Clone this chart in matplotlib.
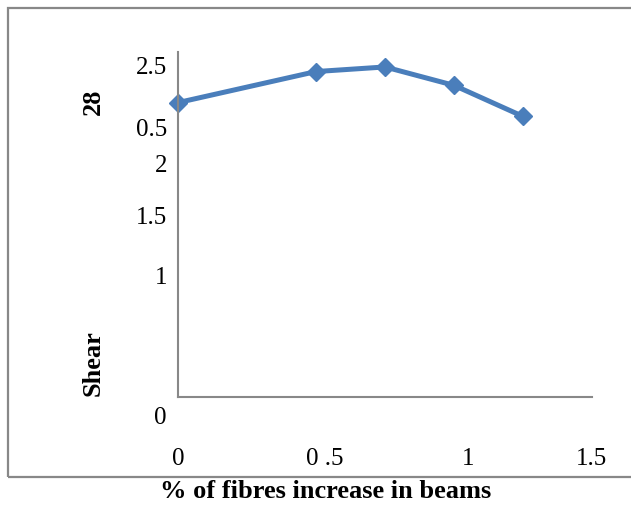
import matplotlib
matplotlib.use('Agg')
import matplotlib.pyplot as plt
from matplotlib.patches import Rectangle

# fibre content (%) and shear values
fibre = [0, 0.5, 0.75, 1.0, 1.25]
shear = [2.56, 2.83, 2.87, 2.71, 2.44]

# tick labels as they appear (the source figure has them garbled)
x_tick_pos = [0, 0.53, 1.05, 1.5]
x_tick_labels = ['0', '0 .5', '1', '1.5']
y_tick_pos = [2.88, 2.34, 2.03, 1.58, 1.06, -0.16]
y_tick_labels = ['2.5', '0.5', '2', '1.5', '1', '0']

plt.rcParams['font.family'] = ['Liberation Serif', 'DejaVu Serif']

W, H = 631, 509
fig = plt.figure(figsize=(W / 100, H / 100), dpi=100)

# outer grey frame
fig.patches.append(Rectangle((8 / W, 1 - 477 / H), 1.0, (477 - 8) / H,
                             transform=fig.transFigure, fill=False,
                             edgecolor='#888888', linewidth=1.6))

left, right = 178 / W, 597.5 / W
top, bottom = 1 - 52 / H, 1 - 425.75 / H
ax = fig.add_axes([left, bottom, right - left, top - bottom])

ax.plot(fibre, shear, color='#4a7ebb', linewidth=3.6, marker='D',
        markersize=9.5, clip_on=False)

ax.set_xlim(0, 1.52)
ax.set_ylim(-0.25, 3.0)

for s in ['top', 'right']:
    ax.spines[s].set_visible(False)
ax.spines['bottom'].set_position(('data', 0))
ax.spines['bottom'].set_bounds(0, 1.5)
ax.spines['left'].set_bounds(0, 3.0)
for s in ['left', 'bottom']:
    ax.spines[s].set_color('#888888')
    ax.spines[s].set_linewidth(1.5)

ax.set_xticks(x_tick_pos)
ax.set_xticklabels(x_tick_labels, fontsize=18)
ax.set_yticks(y_tick_pos)
ax.set_yticklabels(y_tick_labels, fontsize=18)
ax.tick_params(axis='x', length=0, pad=37)
ax.tick_params(axis='y', length=0, pad=8)

fig.text(93 / W, 1 - 102 / H, '28', rotation=90, fontsize=19,
         fontweight='bold', ha='center', va='center')
fig.text(93 / W, 1 - 363 / H, 'Shear', rotation=90, fontsize=19,
         fontweight='bold', ha='center', va='center')
fig.text(326 / W, 1 - 492 / H, '% of fibres increase in beams', fontsize=19,
         fontweight='bold', ha='center', va='center')

fig.savefig('out.png', dpi=100)
